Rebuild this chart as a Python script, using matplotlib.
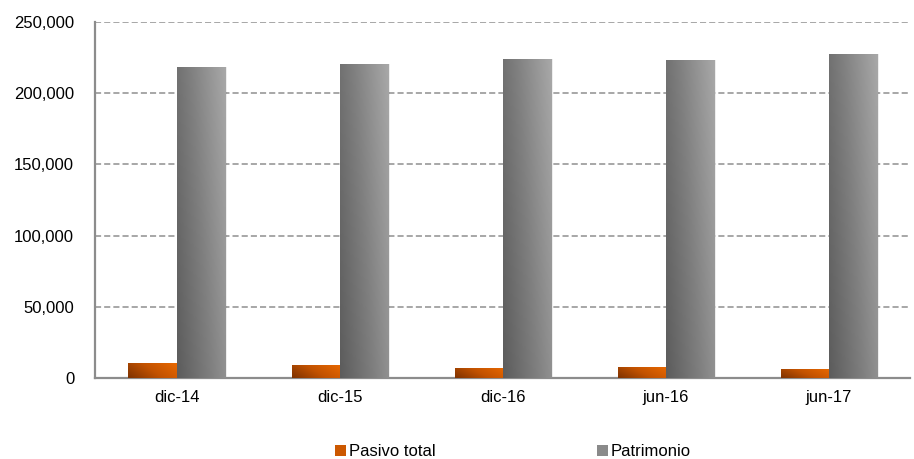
import numpy as np
import matplotlib.pyplot as plt
from matplotlib.colors import LinearSegmentedColormap
from matplotlib.ticker import FuncFormatter
from matplotlib.patches import Patch

plt.rcParams['font.family'] = ['Liberation Sans', 'DejaVu Sans']

periodos = ['dic-14', 'dic-15', 'dic-16', 'jun-16', 'jun-17']
pasivo_total = [10500, 9100, 7100, 7700, 6300]
patrimonio = [218400, 220500, 224000, 223300, 227500]

naranja = LinearSegmentedColormap.from_list('naranja', ['#7e3200', '#c25200', '#e86800'])
gris = LinearSegmentedColormap.from_list('gris', ['#5c5c5c', '#808080', '#a8a8a8'])

fig = plt.figure(figsize=(9.14, 4.59), dpi=100)
ax = fig.add_axes([0.104, 0.1765, 0.892, 0.776])

x = np.arange(len(periodos))
ancho = 0.295

b1 = ax.bar(x - ancho / 2, pasivo_total, ancho, color='none', zorder=3)
b2 = ax.bar(x + ancho / 2, patrimonio, ancho, color='none', zorder=3)

# degradado diagonal dentro de cada barra
gx, gy = np.meshgrid(np.linspace(0, 1, 64), np.linspace(0, 1, 64))
grad = 0.7 * gx + 0.3 * gy  # claro a la derecha y hacia abajo
for barras, cmap in [(b1, naranja), (b2, gris)]:
    for r in barras:
        x0, y0 = r.get_x(), r.get_y()
        w, h = r.get_width(), r.get_height()
        # sombra suave
        ax.bar(x0 + w / 2 + 0.012, h, w, bottom=0, color='#000000', alpha=0.07,
               zorder=2, linewidth=0)
        im = ax.imshow(grad, cmap=cmap, extent=[x0, x0 + w, y0 + h, y0],
                       aspect='auto', zorder=3, interpolation='bilinear')
        im.set_clip_path(r)

ax.set_xlim(-0.5, len(periodos) - 0.5)
ax.set_ylim(0, 250000)

ax.set_xticks(x)
ax.set_xticklabels(periodos)
ax.set_yticks(np.arange(0, 250001, 50000))
ax.yaxis.set_major_formatter(FuncFormatter(lambda v, p: f'{int(v):,}'))
ax.tick_params(axis='both', length=0, labelsize=12, colors='#000000')
ax.tick_params(axis='y', pad=15)
ax.tick_params(axis='x', pad=9)

ax.grid(axis='y', linestyle=(0, (4, 2)), color='#909090', linewidth=1.1, zorder=0)
for s in ['top', 'right']:
    ax.spines[s].set_visible(False)
for s in ['left', 'bottom']:
    ax.spines[s].set_color('#8c8c8c')
    ax.spines[s].set_linewidth(1.6)

handles = [Patch(facecolor='#cc5800', label='Pasivo total'),
           Patch(facecolor='#8a8a8a', label='Patrimonio')]
fig.legend(handles=handles, loc='center', bbox_to_anchor=(0.561, 0.016), ncol=2,
           frameon=False, fontsize=12, handlelength=0.65, handleheight=0.65,
           handletextpad=0.15, columnspacing=9.7)

fig.savefig('out.png', dpi=100)
